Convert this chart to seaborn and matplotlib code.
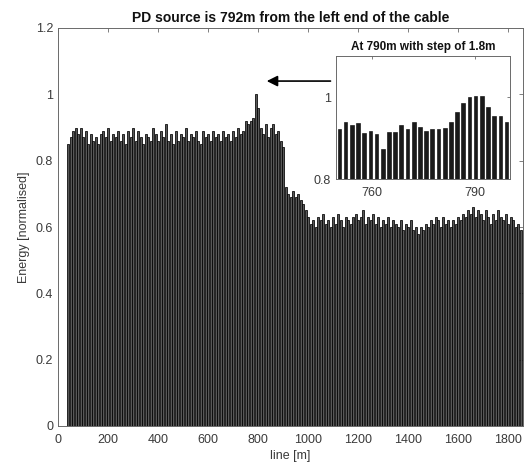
import numpy as np
import pandas as pd
import matplotlib
matplotlib.use("Agg")
import matplotlib.pyplot as plt
import seaborn as sns

# Energy along the cable, sampled every 10 m starting at 40 m
line_start_m = 40
line_step_m = 10
energy = [
    0.85, 0.87, 0.89, 0.90, 0.88, 0.90, 0.87, 0.89, 0.85, 0.88,   # 40-130
    0.86, 0.87, 0.85, 0.88, 0.89, 0.87, 0.90, 0.86, 0.88, 0.87,   # 140-230
    0.89, 0.86, 0.88, 0.85, 0.89, 0.87, 0.90, 0.86, 0.89, 0.87,   # 240-330
    0.85, 0.88, 0.87, 0.86, 0.90, 0.88, 0.86, 0.89, 0.87, 0.91,   # 340-430
    0.86, 0.88, 0.85, 0.89, 0.86, 0.88, 0.87, 0.90, 0.86, 0.88,   # 440-530
    0.87, 0.89, 0.86, 0.85, 0.89, 0.87, 0.88, 0.86, 0.89, 0.87,   # 540-630
    0.88, 0.86, 0.89, 0.87, 0.88, 0.86, 0.89, 0.87, 0.90, 0.88,   # 640-730
    0.89, 0.92, 0.91, 0.92, 0.93, 1.00, 0.96, 0.90, 0.88, 0.91,   # 740-830
    0.87, 0.90, 0.91, 0.88, 0.89, 0.86, 0.84, 0.72, 0.70, 0.69,   # 840-930
    0.71, 0.69, 0.70, 0.68, 0.67, 0.65, 0.63, 0.61, 0.62, 0.60,   # 940-1030
    0.63, 0.62, 0.64, 0.61, 0.62, 0.60, 0.63, 0.61, 0.64, 0.62,   # 1040-1130
    0.60, 0.63, 0.62, 0.61, 0.63, 0.64, 0.62, 0.63, 0.65, 0.61,   # 1140-1230
    0.63, 0.62, 0.64, 0.61, 0.63, 0.60, 0.62, 0.61, 0.63, 0.60,   # 1240-1330
    0.62, 0.61, 0.60, 0.62, 0.59, 0.61, 0.60, 0.62, 0.59, 0.60,   # 1340-1430
    0.58, 0.60, 0.59, 0.61, 0.60, 0.62, 0.61, 0.63, 0.62, 0.60,   # 1440-1530
    0.63, 0.61, 0.62, 0.60, 0.62, 0.61, 0.63, 0.62, 0.64, 0.63,   # 1540-1630
    0.65, 0.64, 0.66, 0.63, 0.65, 0.64, 0.62, 0.65, 0.63, 0.61,   # 1640-1730
    0.64, 0.62, 0.65, 0.63, 0.62, 0.64, 0.61, 0.63, 0.62, 0.60,   # 1740-1830
    0.61, 0.59,                                                   # 1840-1850
]

# Fine scan around the source, 1.8 m step
zoom_start_m = 750.6
zoom_step_m = 1.8
zoom_energy = [
    0.922, 0.938, 0.931, 0.936, 0.913, 0.916, 0.910, 0.873, 0.915, 0.915,
    0.932, 0.922, 0.940, 0.927, 0.918, 0.922, 0.922, 0.924, 0.940, 0.964,
    0.986, 1.000, 1.002, 1.002, 0.976, 0.954, 0.954, 0.940,
]

x_ticks = [0, 200, 400, 600, 800, 1000, 1200, 1400, 1600, 1800]
y_ticks = [0, 0.2, 0.4, 0.6, 0.8, 1.0, 1.2]
y_tick_labels = ["0", "0.2", "0.4", "0.6", "0.8", "1", "1.2"]
zoom_x_ticks = [760, 790]
zoom_y_ticks = [0.8, 1.0]
zoom_y_tick_labels = ["0.8", "1"]

title = "PD source is 792m from the left end of the cable"
zoom_title = "At 790m with step of 1.8m"
x_label = "line [m]"
y_label = "Energy [normalised]"

sns.set_style("white")
plt.rcParams["font.family"] = ["Liberation Sans", "DejaVu Sans"]
text_col = "#3a3a3a"
spine_col = "#6a6a6a"

line_df = pd.DataFrame({
    "pos": line_start_m + line_step_m * np.arange(len(energy)),
    "energy": energy,
})
zoom_df = pd.DataFrame({
    "pos": zoom_start_m + zoom_step_m * np.arange(len(zoom_energy)),
    "energy": zoom_energy,
})

fig = plt.figure(figsize=(5.27, 4.66), dpi=100)
ax = fig.add_axes([58 / 527, 1 - 426 / 466, 465 / 527, 398 / 466])

sns.barplot(data=line_df, x="pos", y="energy", native_scale=True, width=0.8,
            color="#585858", edgecolor="black", linewidth=0.55,
            errorbar=None, saturation=1, ax=ax)

ax.set_xlim(0, 1860)
ax.set_ylim(0, 1.2)
ax.set_xticks(x_ticks)
ax.set_xticklabels([str(t) for t in x_ticks])
ax.set_yticks(y_ticks)
ax.set_yticklabels(y_tick_labels)
ax.tick_params(direction="in", length=3, width=0.6, colors=spine_col,
               labelcolor=text_col, labelsize=9, top=True, right=True)
ax.tick_params(axis="x", pad=6)
for sp in ax.spines.values():
    sp.set_visible(True)
    sp.set_color(spine_col)
    sp.set_linewidth(0.7)
ax.set_xlabel(x_label, fontsize=9, color=text_col, labelpad=3)
ax.set_ylabel(y_label, fontsize=9, color=text_col, labelpad=4)
ax.set_title(title, fontsize=10, fontweight="bold", color="#111111", pad=4)

# arrow pointing from the inset towards the source location
ax.annotate("", xy=(835, 1.04), xytext=(1090, 1.04),
            arrowprops=dict(arrowstyle="-|>", color="black", lw=1.2,
                            mutation_scale=16, shrinkA=0, shrinkB=0))

# inset with the fine scan
axi = fig.add_axes([336 / 527, 1 - 179 / 466, 174 / 527, 123 / 466])
axi.set_facecolor("white")
sns.barplot(data=zoom_df, x="pos", y="energy", native_scale=True, width=0.6,
            color="#1a1a1a", edgecolor="black", linewidth=0.4,
            errorbar=None, saturation=1, ax=axi)
axi.set_xlim(749.6, 800.2)
axi.set_ylim(0.8, 1.1)
axi.set_xticks(zoom_x_ticks)
axi.set_xticklabels([str(t) for t in zoom_x_ticks])
axi.set_yticks(zoom_y_ticks)
axi.set_yticklabels(zoom_y_tick_labels)
axi.tick_params(direction="in", length=2.5, width=0.6, colors=spine_col,
                labelcolor=text_col, labelsize=9, top=True, right=True)
axi.tick_params(axis="x", pad=6)
for sp in axi.spines.values():
    sp.set_visible(True)
    sp.set_color(spine_col)
    sp.set_linewidth(0.7)
axi.set_xlabel("")
axi.set_ylabel("")
axi.set_title(zoom_title, fontsize=8.5, fontweight="bold", color="#111111", pad=4)

fig.savefig("out.png", dpi=100)
